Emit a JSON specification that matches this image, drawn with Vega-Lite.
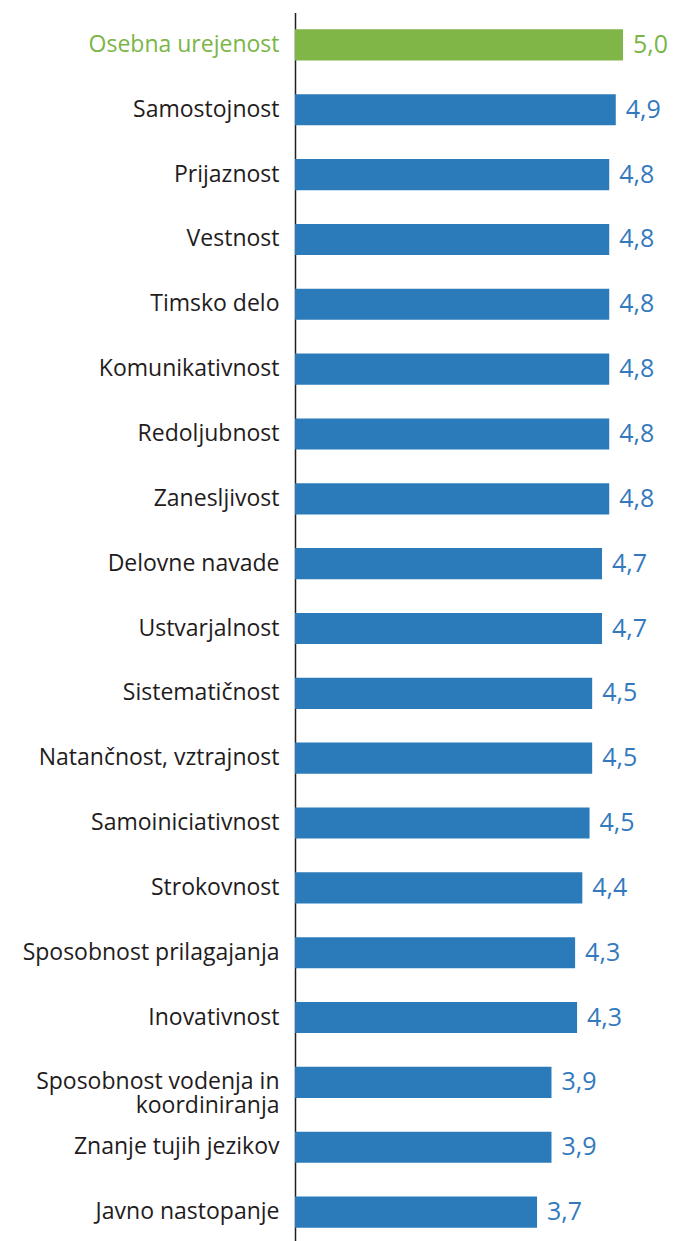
{
  "$schema": "https://vega.github.io/schema/vega-lite/v6.json",
  "autosize": "none",
  "width": 328,
  "height": 1232,
  "padding": {"left": 295, "top": 12.5, "right": 51, "bottom": 0},
  "background": "white",
  "config": {
    "view": {"stroke": null},
    "font": "Open Sans",
    "locale": {"number": {"decimal": ",", "thousands": ".", "grouping": [3], "currency": ["", " €"]}}
  },
  "data": {
    "values": [
      {"item": "Osebna urejenost", "value": 5.0},
      {"item": "Samostojnost", "value": 4.89},
      {"item": "Prijaznost", "value": 4.79},
      {"item": "Vestnost", "value": 4.79},
      {"item": "Timsko delo", "value": 4.79},
      {"item": "Komunikativnost", "value": 4.79},
      {"item": "Redoljubnost", "value": 4.79},
      {"item": "Zanesljivost", "value": 4.79},
      {"item": "Delovne navade", "value": 4.68},
      {"item": "Ustvarjalnost", "value": 4.68},
      {"item": "Sistematičnost", "value": 4.53},
      {"item": "Natančnost, vztrajnost", "value": 4.53},
      {"item": "Samoiniciativnost", "value": 4.49},
      {"item": "Strokovnost", "value": 4.38},
      {"item": "Sposobnost prilagajanja", "value": 4.27},
      {"item": "Inovativnost", "value": 4.3},
      {"item": "Sposobnost vodenja in koordiniranja", "value": 3.91},
      {"item": "Znanje tujih jezikov", "value": 3.91},
      {"item": "Javno nastopanje", "value": 3.69}
    ]
  },
  "encoding": {
    "y": {
      "field": "item",
      "type": "nominal",
      "sort": null,
      "scale": {"paddingInner": 0.52, "paddingOuter": 0.26},
      "axis": {
        "title": null,
        "ticks": false,
        "grid": false,
        "domain": true,
        "domainColor": "#231f20",
        "domainWidth": 1.5,
        "labelFont": "Open Sans",
        "labelFontSize": 23,
        "labelPadding": 16,
        "labelLineHeight": 24,
        "labelLimit": 0,
        "labelColor": {"condition": {"test": "datum.value == 'Osebna urejenost'", "value": "#7ab547"}, "value": "#1f1c1d"},
        "labelExpr": "datum.value == 'Sposobnost vodenja in koordiniranja' ? ['Sposobnost vodenja in', 'koordiniranja'] : datum.label"
      }
    },
    "x": {
      "field": "value",
      "type": "quantitative",
      "scale": {"domain": [0, 5], "nice": false, "zero": true},
      "axis": null
    }
  },
  "layer": [
    {
      "mark": {"type": "bar"},
      "encoding": {
        "color": {"condition": {"test": "datum.item == 'Osebna urejenost'", "value": "#80b547"}, "value": "#2b7bba"}
      }
    },
    {
      "mark": {"type": "text", "align": "left", "baseline": "middle", "dx": 10, "fontSize": 25, "font": "Open Sans"},
      "encoding": {
        "text": {"field": "value", "type": "quantitative", "format": ".1f"},
        "color": {"condition": {"test": "datum.item == 'Osebna urejenost'", "value": "#7ab547"}, "value": "#3479bd"}
      }
    }
  ]
}
